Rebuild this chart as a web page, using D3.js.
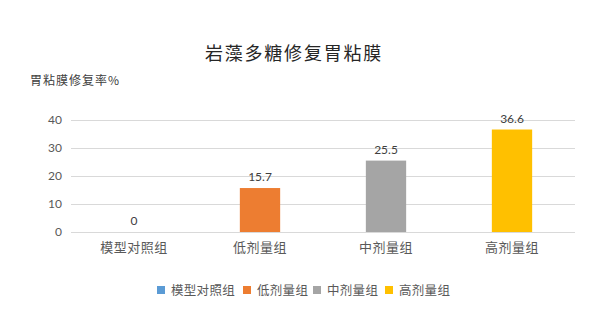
<!DOCTYPE html>
<html>
<head>
<meta charset="utf-8">
<script src="https://cdn.jsdelivr.net/npm/d3@7"></script>
<style>
  html, body { margin: 0; padding: 0; background: #fff; }
  svg { display: block; }
</style>
</head>
<body>
<svg id="chart" width="601" height="330"></svg>
<script>
const categories = ["模型对照组", "低剂量组", "中剂量组", "高剂量组"];
const values = [0, 15.7, 25.5, 36.6];
const colors = ["#5B9BD5", "#ED7D31", "#A5A5A5", "#FFC000"];
const yTicks = [0, 10, 20, 30, 40];
const title = "岩藻多糖修复胃粘膜";
const yTitle = "胃粘膜修复率%";

const cjk = "'Noto Sans CJK SC', 'Microsoft YaHei', sans-serif";
const num = "Lato, 'Liberation Sans', sans-serif";
const textColor = "#595959";

const svg = d3.select("#chart");
const W = 601, H = 330;
svg.append("rect").attr("width", W).attr("height", H).attr("fill", "#fff");

const plot = { left: 71, right: 575, top: 120, bottom: 232 };

const x = d3.scaleBand().domain(categories).range([plot.left, plot.right]).paddingInner(0.68).paddingOuter(0.34);
const y = d3.scaleLinear().domain([0, 40]).range([plot.bottom, plot.top]);

// gridlines
svg.append("g").selectAll("line").data(yTicks).join("line")
  .attr("x1", plot.left).attr("x2", plot.right)
  .attr("y1", d => Math.round(y(d)) + 0.5).attr("y2", d => Math.round(y(d)) + 0.5)
  .attr("stroke", "#D9D9D9").attr("stroke-width", 1);

// y tick labels
const yAxis = d3.axisLeft(y).tickValues(yTicks).tickSize(0).tickPadding(0);
const yg = svg.append("g").attr("transform", `translate(${plot.left - 9},0)`).call(yAxis);
yg.select(".domain").remove();
yg.selectAll("text").attr("fill", textColor).attr("font-family", num).attr("font-size", 12);

// x labels
const xAxis = d3.axisBottom(x).tickSize(0).tickPadding(0);
const xg = svg.append("g").attr("transform", `translate(0,${plot.bottom + 11})`).call(xAxis);
xg.select(".domain").remove();
xg.selectAll("text").attr("fill", textColor).attr("font-family", cjk).attr("font-size", 13)
  .attr("dy", "0.71em").attr("letter-spacing", 0.5);

// bars
svg.append("g").selectAll("rect").data(values).join("rect")
  .attr("x", (d, i) => x(categories[i]))
  .attr("width", x.bandwidth())
  .attr("y", d => y(d))
  .attr("height", d => y(0) - y(d))
  .attr("fill", (d, i) => colors[i]);

// data labels
svg.append("g").selectAll("text").data(values).join("text")
  .attr("x", (d, i) => x(categories[i]) + x.bandwidth() / 2)
  .attr("y", d => y(d) - 7)
  .attr("text-anchor", "middle")
  .attr("fill", "#404040").attr("font-family", num).attr("font-size", 12)
  .text(d => d);

// title
svg.append("text").attr("x", 294).attr("y", 60).attr("text-anchor", "middle")
  .attr("fill", "#262626").attr("font-family", cjk).attr("font-size", 18)
  .attr("letter-spacing", 1.8).text(title);

// y title
svg.append("text").attr("x", 30).attr("y", 85)
  .attr("fill", "#404040").attr("font-family", cjk).attr("font-size", 12)
  .attr("letter-spacing", 1).text(yTitle);

// legend
const legendItems = [
  { x: 157 }, { x: 243 }, { x: 313 }, { x: 385 }
];
const lg = svg.append("g");
categories.forEach((c, i) => {
  const lx = legendItems[i].x;
  lg.append("rect").attr("x", lx).attr("y", 286).attr("width", 8).attr("height", 8).attr("fill", colors[i]);
  lg.append("text").attr("x", lx + 14).attr("y", 295)
    .attr("fill", textColor).attr("font-family", cjk).attr("font-size", 12.5)
    .attr("letter-spacing", 0.3).text(c);
});
</script>
</body>
</html>
